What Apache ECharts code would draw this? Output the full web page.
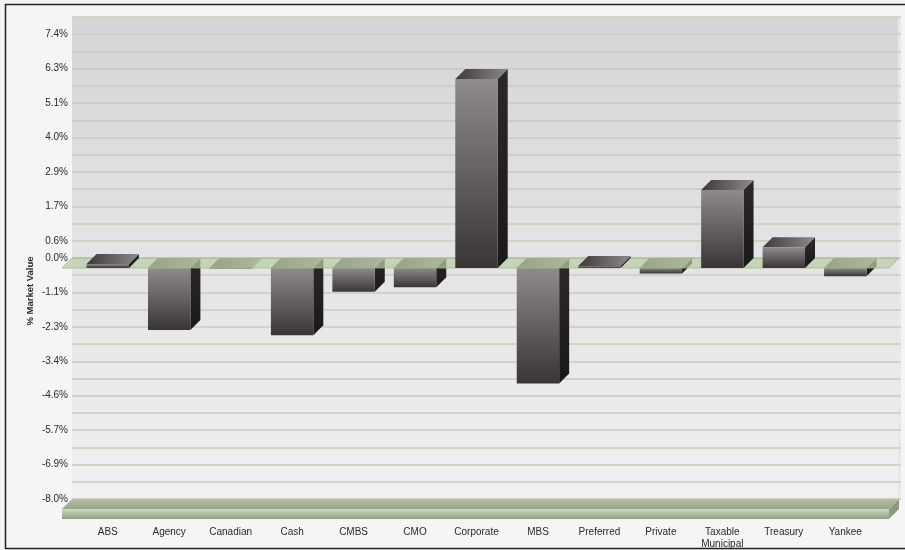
<!DOCTYPE html>
<html><head><meta charset="utf-8">
<script src="https://cdn.jsdelivr.net/npm/echarts@6/dist/echarts.min.js"></script>
<style>html,body{margin:0;padding:0;background:#fff}#c{width:905px;height:550px}</style>
</head><body><div id="c"></div>
<script>
// ---- data ----
const categories = ['ABS','Agency','Canadian','Cash','CMBS','CMO','Corporate','MBS','Preferred','Private','Taxable Municipal','Treasury','Yankee'];
const values = [0.13,-2.06,-0.02,-2.23,-0.79,-0.64,6.27,-3.83,0.07,-0.18,2.59,0.69,-0.27];
const yMin = -8, yMax = 8, yStep = 8 / 14;
const axisTitle = '% Market Value';

// ---- rendering ----
const D = 10; // 3D depth offset in px
const FONT = '"Liberation Sans", Arial, sans-serif';
const chart = echarts.init(document.getElementById('c'), null, {renderer: 'canvas'});

const frontGrad = new echarts.graphic.LinearGradient(0, 0, 0, 1, [
  {offset: 0, color: '#8f8b8c'}, {offset: 1, color: '#393435'}]);
const sideGrad = new echarts.graphic.LinearGradient(0, 0, 0, 1, [
  {offset: 0, color: '#2c2829'}, {offset: 1, color: '#1b1819'}]);
const topGrad = new echarts.graphic.LinearGradient(0, 0, 1, 0, [
  {offset: 0, color: '#3e3a3b'}, {offset: 1, color: '#8d898a'}]);

function barItem(params, api, positive) {
  const idx = api.value(0), v = api.value(1);
  if ((v > 0) !== positive) return null;
  const p0 = api.coord([idx, 0]);
  const p1 = api.coord([idx, v]);
  const bw = api.size([1, 0])[0] * 0.69;
  const xl = p0[0] - bw / 2, xr = p0[0] + bw / 2;
  const yt = Math.min(p0[1], p1[1]) + D;
  const yb = Math.max(p0[1], p1[1]) + D;
  return {
    type: 'group',
    children: [
      {type: 'polygon', shape: {points: [[xr, yt], [xr + D, yt - D], [xr + D, yb - D], [xr, yb]]}, style: {fill: sideGrad}},
      {type: 'polygon', shape: {points: [[xl, yt], [xr, yt], [xr + D, yt - D], [xl + D, yt - D]]}, style: {fill: topGrad}},
      {type: 'rect', shape: {x: xl, y: yt, width: bw, height: Math.max(yb - yt, 0.5)}, style: {fill: frontGrad}}
    ]
  };
}

const barData = values.map((v, i) => [i, v]);

function labelFmt(v) {
  const k = Math.round((v - yMin) / yStep);
  const zeroK = Math.round((0 - yMin) / yStep);
  const show = (k <= zeroK && (k - zeroK) % 2 === 0) || (k > zeroK && (k - zeroK) % 2 === 1);
  if (!show) return '';
  let s = (Math.abs(v) < 1e-9 ? 0 : v).toFixed(1);
  return s + '%';
}

const option = {
  backgroundColor: '#f5f5f5',
  animation: false,
  grid: [
    {left: 72, right: 4, top: 17, bottom: 51},
    {left: 77, width: 799, top: 17, bottom: 51}
  ],
  xAxis: [
    {gridIndex: 0, type: 'category', data: categories, show: false},
    {gridIndex: 1, type: 'category', data: categories,
      axisLine: {show: false}, axisTick: {show: false},
      axisLabel: {margin: 27, fontSize: 10, lineHeight: 12, color: '#2a2a2a', fontFamily: FONT,
        interval: 0, formatter: v => v.replace(' ', '\n')}}
  ],
  yAxis: [
    {gridIndex: 0, type: 'value', min: yMin, max: yMax, interval: yStep,
      axisLine: {show: false}, axisTick: {show: false},
      axisLabel: {margin: 4, fontSize: 10, color: '#2a2a2a', fontFamily: FONT, formatter: labelFmt},
      splitLine: {show: true, showMaxLine: false, lineStyle: {color: '#c4cfb6', width: 1.6}}},
    {gridIndex: 1, type: 'value', min: yMin, max: yMax, interval: yStep, show: false,
      splitLine: {show: false}}
  ],
  graphic: [
    {type: 'rect', z: 100, silent: true, shape: {x: 5.5, y: 4.5, width: 910, height: 544},
      style: {fill: 'none', stroke: '#222', lineWidth: 1.5}},
    {type: 'text', z: 100, x: 30, y: 291, rotation: Math.PI / 2,
      style: {text: axisTitle, x: 0, y: 0, align: 'center', verticalAlign: 'middle',
        font: 'bold 9.5px ' + FONT, fill: '#2a2a2a'}}
  ],
  series: [
    { // back wall
      type: 'custom', xAxisIndex: 0, yAxisIndex: 0, z: -1, silent: true,
      data: [[0, 0]],
      renderItem: function (params, api) {
        const cs = params.coordSys;
        return {type: 'group', children: [
          {type: 'rect', shape: {x: cs.x, y: cs.y, width: cs.width, height: cs.height},
            style: {fill: new echarts.graphic.LinearGradient(0, 0, 0, 1, [
              {offset: 0, color: '#d5d5d5'}, {offset: 0.5, color: '#e4e4e4'}, {offset: 1, color: '#f0f0f0'}])}},
          {type: 'rect', shape: {x: cs.x + cs.width - 3, y: cs.y, width: 3, height: cs.height},
            style: {fill: '#e9e9e9'}}
        ]};
      }
    },
    { // negative bars (behind zero plane)
      type: 'custom', xAxisIndex: 1, yAxisIndex: 1, z: 2, silent: true,
      encode: {x: 0, y: 1}, data: barData,
      renderItem: (p, api) => barItem(p, api, false)
    },
    { // zero plane and floor slab
      type: 'custom', xAxisIndex: 0, yAxisIndex: 0, z: 3, silent: true,
      data: [[0, 0]],
      renderItem: function (params, api) {
        const cs = params.coordSys;
        const y0 = api.coord([0, 0])[1];
        const yB = api.coord([0, yMin])[1];
        const xL = cs.x, xR = cs.x + cs.width - 2;
        const T = 10;
        return {type: 'group', children: [
          {type: 'polygon', shape: {points: [[xL, y0], [xR, y0], [xR - D, y0 + D], [xL - D, y0 + D]]},
            style: {fill: 'rgba(184,204,166,0.72)', stroke: 'rgba(160,180,140,0.8)', lineWidth: 1}},
          {type: 'polygon', shape: {points: [[xL, yB], [xR, yB], [xR - D, yB + D], [xL - D, yB + D]]},
            style: {fill: new echarts.graphic.LinearGradient(0, 0, 0, 1, [
              {offset: 0, color: '#b3bfa4'}, {offset: 1, color: '#98a788'}])}},
          {type: 'rect', shape: {x: xL - D, y: yB + D, width: xR - xL, height: T},
            style: {fill: new echarts.graphic.LinearGradient(0, 0, 0, 1, [
              {offset: 0, color: '#d3dcc8'}, {offset: 0.4, color: '#b4c1a5'}, {offset: 1, color: '#8f9d81'}])}},
          {type: 'polygon', shape: {points: [[xR - D, yB + D], [xR, yB], [xR, yB + T], [xR - D, yB + D + T]]},
            style: {fill: '#8c9a7e'}}
        ]};
      }
    },
    { // positive bars (in front of zero plane)
      type: 'custom', xAxisIndex: 1, yAxisIndex: 1, z: 4, silent: true,
      encode: {x: 0, y: 1}, data: barData,
      renderItem: (p, api) => barItem(p, api, true)
    }
  ]
};
chart.setOption(option);
</script>
</body></html>
